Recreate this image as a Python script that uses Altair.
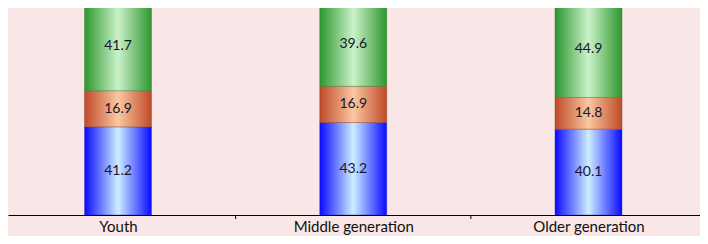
import altair as alt
import pandas as pd

gens = ["Youth", "Middle generation", "Older generation"]
series = ["Blue", "Orange", "Green"]
blue_vals = [41.2, 43.2, 40.1]
orange_vals = [16.9, 16.9, 14.8]
green_vals = [41.7, 39.6, 44.9]
boundaries = [0.5, 1.5, 2.5]

rows = []
for i, g in enumerate(gens):
    for k, (s, vals) in enumerate(zip(series, [blue_vals, orange_vals, green_vals])):
        rows.append({"gen": g, "gi": i, "series": s, "order": k, "value": vals[i]})
df = pd.DataFrame(rows)

def grad(edge, center):
    return alt.LinearGradient(
        gradient="linear", x1=0, x2=1, y1=0, y2=0,
        stops=[alt.GradientStop(offset=0, color=edge),
               alt.GradientStop(offset=0.5, color=center),
               alt.GradientStop(offset=1, color=edge)])

fills = {
    "Blue": grad("#0a0aff", "#cdeeff"),
    "Orange": grad("#c04a28", "#fac8a0"),
    "Green": grad("#2e962e", "#caf2ca"),
}
edges = {"Blue": "#3030c0", "Orange": "#8a3a20", "Green": "#2a7a2a"}

xscale = alt.Scale(domain=[-0.4676, 2.474], nice=False, zero=False, padding=0)
yscale = alt.Scale(domain=[0, 96.7], nice=False, zero=True, padding=0)

base = alt.Chart(df).transform_stack(
    stack="value", groupby=["gen"], as_=["y0", "y1"],
    sort=[alt.SortField("order", "ascending")]
)

labels_js = "['" + "','".join(gens) + "'][datum.value]"

layers = []
for s in series:
    layers.append(
        base.transform_filter(alt.datum.series == s).mark_bar(
            fill=fills[s], size=67, clip=True, stroke=edges[s], strokeWidth=0.4
        ).encode(
            x=alt.X("gi:Q", scale=xscale,
                    axis=alt.Axis(values=[0, 1, 2], ticks=False, grid=False,
                                  domainColor="#000000", domainWidth=1,
                                  labelExpr=labels_js,
                                  labelFont="Lato", labelFontSize=15, labelColor="#111111",
                                  labelPadding=4, title=None)),
            y=alt.Y("y0:Q", scale=yscale, axis=None),
            y2="y1:Q",
        )
    )

texts = base.transform_calculate(mid="(datum.y0 + datum.y1) / 2").mark_text(
    font="Lato", fontSize=14, color="#15152e", baseline="middle"
).encode(
    x=alt.X("gi:Q", scale=xscale),
    y=alt.Y("mid:Q", scale=yscale),
    text=alt.Text("value:Q", format=".1f"),
)

ticks = alt.Chart(pd.DataFrame({"b": boundaries})).mark_rule(
    color="#000000", strokeWidth=1
).encode(
    x=alt.X("b:Q", scale=xscale),
    y=alt.value(207),
    y2=alt.value(211),
)

chart = alt.layer(*layers, texts, ticks).properties(
    width=692, height=207,
    background="#f9e6e6",
    padding={"left": 0, "top": 0, "right": 0, "bottom": 21},
    autosize=alt.AutoSizeParams(type="none"),
).configure_view(stroke=None)

chart.save("out.html", embed_options={"renderer": "svg", "actions": False})
